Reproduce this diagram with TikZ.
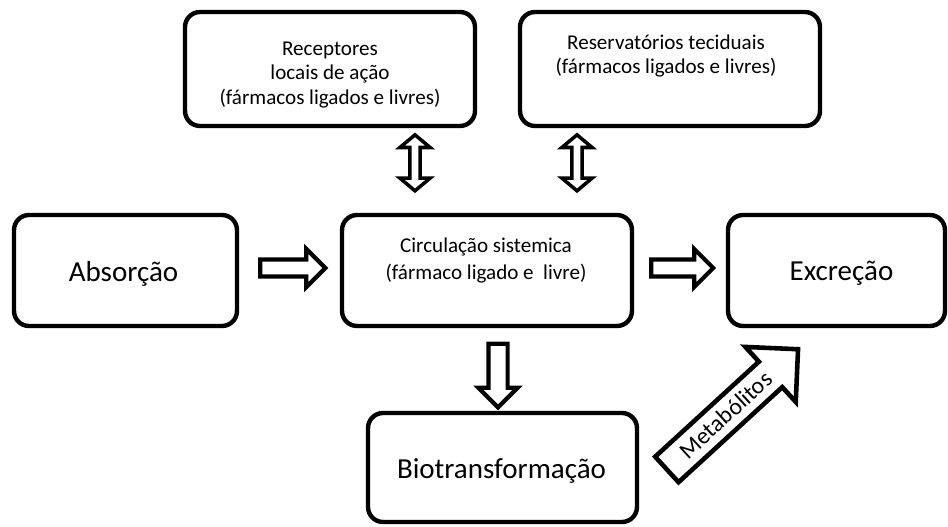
\documentclass[tikz,border=0pt]{standalone}
\usepackage{fontspec}
\setmainfont{Carlito}
\usetikzlibrary{shapes.arrows,calc}
\begin{document}
\begin{tikzpicture}[x=0.02cm,y=-0.02cm,
  box/.style={draw,line width=2.5pt,rounded corners=0.3cm,inner sep=0pt},
  bigtxt/.style={font=\fontsize{16.5}{19}\selectfont,inner sep=0pt},
  smalltxt/.style={font=\fontsize{12}{14}\selectfont,align=center,inner sep=0pt},
  blockarrow/.style={single arrow,draw,fill=white,line width=2.4pt,inner sep=0pt,
    text height=0.13cm,text depth=0.13cm,single arrow head extend=0.21cm,
    single arrow tip angle=90,anchor=tail},
  twoway/.style={double arrow,draw,fill=white,line width=2pt,inner sep=0pt,
    text height=0.067cm,text depth=0.067cm,double arrow head extend=0.2cm,
    double arrow tip angle=100,minimum height=1.12cm,rotate=90},
]
\useasboundingbox (0,0) rectangle (948,527);
% boxes
\node[box,minimum width=5.8cm,minimum height=2.28cm] (rec) at (330,69) {};
\node[box,minimum width=6.0cm,minimum height=2.28cm] (res) at (670,69) {};
\node[box,minimum width=4.46cm,minimum height=2.22cm] (abs) at (125.5,270.5) {};
\node[box,minimum width=5.8cm,minimum height=2.22cm] (circ) at (487,270.5) {};
\node[box,minimum width=4.34cm,minimum height=2.22cm] (exc) at (836.5,270.5) {};
\node[box,minimum width=5.38cm,minimum height=2.18cm] (bio) at (502.5,467.5) {};
% texts
\node[smalltxt] (rect) at ($(rec.center)+(0,6)$) {Receptores\\locais de ação\\(fármacos ligados e livres)};
\node[smalltxt] (rest) at ($(res.center)+(-4,-13)$) {Reservatórios teciduais\\(fármacos ligados e livres)};
\node[smalltxt,font=\fontsize{12}{15.6}\selectfont] (circt) at ($(circ.center)+(-1,-10)$) {Circulação sistemica\\(fármaco ligado e~~livre)};
\node[bigtxt] (abst) at ($(abs.center)+(-2,3)$) {Absorção};
\node[bigtxt] (exct) at ($(exc.center)+(5,3)$) {Excreção};
\node[bigtxt] (biot) at ($(bio.center)+(-1,3)$) {Biotransformação};
% arrows
\node[blockarrow,minimum height=1.3cm] (a1) at ($(abs.east)+(19,-2.5)$) {};
\node[blockarrow,minimum height=1.24cm] (a2) at ($(circ.east)+(15,-2.5)$) {};
\node[blockarrow,minimum height=1.27cm,rotate=-90,text height=0.15cm,text depth=0.15cm,
  single arrow head extend=0.2cm] (a3) at ($(circ.south)+(11,13.5)$) {};
\node[twoway] (d1) at ($(circ.north)+(-72,-50)$) {};
\node[twoway] (d2) at ($(circ.north)+(90,-50)$) {};
\node[single arrow,draw,fill=white,line width=2.6pt,inner sep=0pt,anchor=tail,
  text height=0.45cm,text depth=0.15cm,single arrow head extend=0.4cm,
  single arrow tip angle=90,minimum height=3.56cm,rotate=42.5,
  font=\fontsize{13.5}{16}\selectfont] (met) at ($(bio.east)+(26,3.5)$) {Metabólitos};
\end{tikzpicture}
\end{document}
